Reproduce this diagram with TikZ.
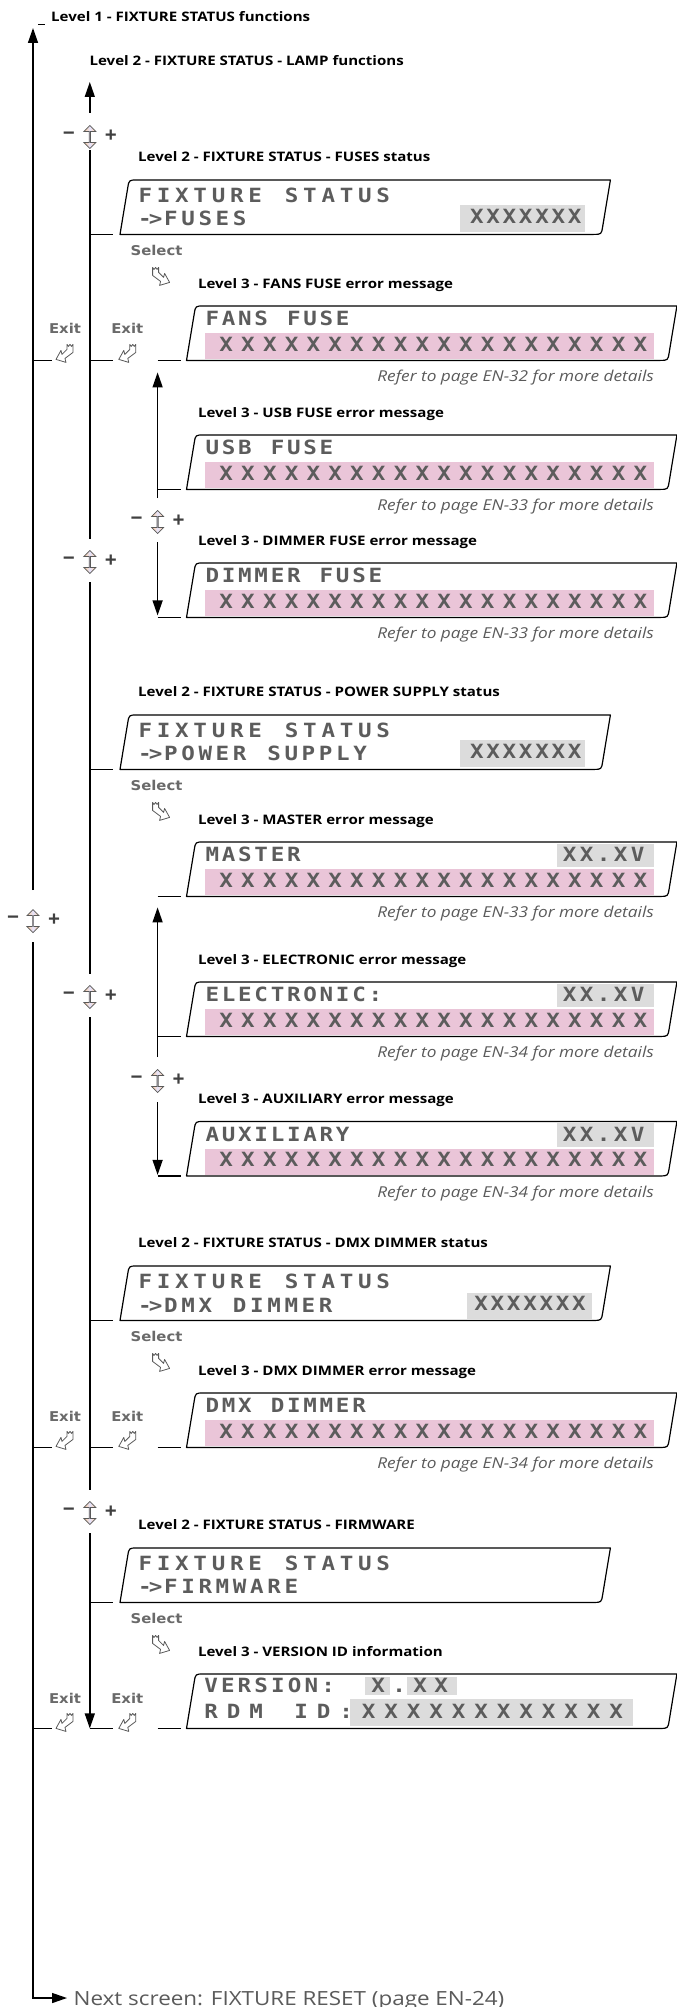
\documentclass[tikz,border=0pt]{standalone}
\usepackage{fontspec}
\setmainfont{Open Sans}
\newfontfamily\widefont[FakeStretch=1.15]{Open Sans}
\newfontfamily\lcdfont[FakeStretch=1.15]{DejaVu Sans Mono}
\newfontfamily\keyfont[FakeStretch=1.1]{DejaVu Sans}
\usetikzlibrary{positioning, calc, arrows.meta, shapes.arrows}

\definecolor{lcdgray}{HTML}{5C5C5C}
\definecolor{lcdpink}{HTML}{EAC5D8}
\definecolor{lcdhl}{HTML}{DCDCDC}
\definecolor{notegray}{HTML}{5A5A5A}
\definecolor{keygray}{HTML}{6A6A6A}

\makeatletter
% one LCD character per cell of fixed width
\newcommand{\lcd}[2]{\@tfor\lcd@c:=#2\do{\makebox[#1][c]{\lcd@c}}}
\makeatother

% LCD window outline: slanted sides, round top-left and bottom-right corners
\newcommand{\lcdframe}[1]{%
  \draw[winframe] (#1.south west)
    -- ([shift={(7.7pt,-8pt)}]#1.north west)
    .. controls ([xshift=9pt]#1.north west) .. ([xshift=17pt]#1.north west)
    -- (#1.north east)
    -- ([shift={(-7.7pt,8pt)}]#1.south east)
    .. controls ([xshift=-9pt]#1.south east) .. ([xshift=-17pt]#1.south east)
    -- cycle;}

\tikzset{
    exiticon/.pic={
        \draw[icon] (2,-9) -- (3.5,-7) -- (5,-9) -- (6.5,-7) -- (8,-9)
            -- (8,-1) -- (0,5) -- (1,9) -- (-9,6) -- (-4,-3) -- (-3,1)
            -- (2,-4) -- cycle;
    },
}

\begin{document}
\begin{tikzpicture}[
    x=1pt, y=-1pt,
    % Styles
    flowline/.style={line width=1.4pt},
    arr/.style={flowline, -{Triangle[length=15pt, width=10pt]}},
    winframe/.style={line width=1.2pt, line join=round},
    win/.style={anchor=north west, minimum width=490pt, minimum height=54pt,
        inner sep=0pt},
    lvltitle/.style={anchor=base west, inner sep=0pt,
        font=\widefont\bfseries\fontsize{13.1}{15}\selectfont},
    refnote/.style={anchor=base east, inner sep=0pt, text=notegray,
        font=\widefont\itshape\fontsize{15}{17}\selectfont},
    lcdrow/.style={anchor=base west, inner sep=0pt, text=lcdgray,
        font=\lcdfont\bfseries\fontsize{19.6}{20}\selectfont},
    hilite/.style={fill=lcdhl},
    pinkbar/.style={fill=lcdpink},
    keylbl/.style={inner sep=0pt, text=keygray,
        font=\keyfont\bfseries\fontsize{13.5}{14}\selectfont},
    pm/.style={inner sep=0pt, text=black!75,
        font=\bfseries\fontsize{21}{21}\selectfont},
    updown/.style={double arrow, rotate=90, draw=black!65, line width=0.7pt,
        left color=orange!40!white, right color=orange!40!white,
        middle color=blue!10, minimum height=23pt, minimum width=12pt,
        double arrow head extend=3pt, inner sep=0pt},
    icon/.style={draw=black!65, fill=white, line width=0.8pt, line join=round},
]
\useasboundingbox (0,0) rectangle (677,2007);

\coordinate (t1) at (33,0);
\coordinate (t2) at (89.8,0);
\coordinate (t3) at (157.6,0);

% ===== Level 2 windows =====
\node[win] (fuses) at (120,180) {};
\lcdframe{fuses}
\fill[hilite] ($(fuses.north west)+(340,25)$) rectangle ++(125,27);
\node[lcdrow] (fuses-1) at ($(fuses.north west)+(16,22)$) {\lcd{18.3pt}{FIXTURE~STATUS}};
\node[lcdrow] (fuses-2) at ($(fuses.north west)+(18,45)$) {-\kern-3pt>\lcd{17.2pt}{FUSES}};
\node[lcdrow] (fuses-3) at ($(fuses.north west)+(348.5,43)$) {\lcd{16.3pt}{XXXXXXX}};
\node[lvltitle] (fuses-t) at ($(fuses.north west)+(18,-18.5)$)
    {Level 2 - FIXTURE STATUS - FUSES status};

\node[win] (power) at (120,715) {};
\lcdframe{power}
\fill[hilite] ($(power.north west)+(340,25)$) rectangle ++(125,27);
\node[lcdrow] (power-1) at ($(power.north west)+(16,22)$) {\lcd{18.3pt}{FIXTURE~STATUS}};
\node[lcdrow] (power-2) at ($(power.north west)+(18,45)$) {-\kern-3pt>\lcd{17.2pt}{POWER~SUPPLY}};
\node[lcdrow] (power-3) at ($(power.north west)+(348.5,43)$) {\lcd{16.3pt}{XXXXXXX}};
\node[lvltitle] (power-t) at ($(power.north west)+(18,-18.5)$)
    {Level 2 - FIXTURE STATUS - POWER SUPPLY status};

\node[win] (dmx) at (120,1266) {};
\lcdframe{dmx}
\fill[hilite] ($(dmx.north west)+(347,27)$) rectangle ++(124.5,26);
\node[lcdrow] (dmx-1) at ($(dmx.north west)+(16,22)$) {\lcd{18.3pt}{FIXTURE~STATUS}};
\node[lcdrow] (dmx-2) at ($(dmx.north west)+(18,46)$) {-\kern-3pt>\lcd{17.2pt}{DMX~DIMMER}};
\node[lcdrow] (dmx-3) at ($(dmx.north west)+(352.8,44)$) {\lcd{16.3pt}{XXXXXXX}};
\node[lvltitle] (dmx-t) at ($(dmx.north west)+(18,-18.5)$)
    {Level 2 - FIXTURE STATUS - DMX DIMMER status};

\node[win] (firmware) at (120,1548) {};
\lcdframe{firmware}
\node[lcdrow] (firmware-1) at ($(firmware.north west)+(16,22)$) {\lcd{18.3pt}{FIXTURE~STATUS}};
\node[lcdrow] (firmware-2) at ($(firmware.north west)+(18,45)$) {-\kern-3pt>\lcd{17.2pt}{FIRMWARE}};
\node[lvltitle] (firmware-t) at ($(firmware.north west)+(18,-18.5)$)
    {Level 2 - FIXTURE STATUS - FIRMWARE};

% ===== Level 3 windows =====
\node[win] (fans) at (186.5,306) {};
\lcdframe{fans}
\fill[pinkbar] ($(fans.north west)+(18.5,27)$) rectangle ++(449,26);
\node[lcdrow] (fans-1) at ($(fans.north west)+(17.5,19.5)$) {\lcd{16.3pt}{FANS~FUSE}};
\node[lcdrow] (fans-2) at ($(fans.north west)+(28.6,45)$) {\lcd{21.8pt}{XXXXXXXXXXXXXXXXXXXX}};
\node[lvltitle] (fans-t) at ($(fans.north west)+(11.3,-18)$) {Level 3 - FANS FUSE error message};
\node[refnote] (fans-n) at ($(fans.south west)+(467.5,21.5)$) {Refer to page EN-32 for more details};

\node[win] (usb) at (186.5,435) {};
\lcdframe{usb}
\fill[pinkbar] ($(usb.north west)+(18.5,27)$) rectangle ++(449,26);
\node[lcdrow] (usb-1) at ($(usb.north west)+(17.5,19.5)$) {\lcd{16.3pt}{USB~FUSE}};
\node[lcdrow] (usb-2) at ($(usb.north west)+(28.6,45)$) {\lcd{21.8pt}{XXXXXXXXXXXXXXXXXXXX}};
\node[lvltitle] (usb-t) at ($(usb.north west)+(11.3,-18)$) {Level 3 - USB FUSE error message};
\node[refnote] (usb-n) at ($(usb.south west)+(467.5,21.5)$) {Refer to page EN-33 for more details};

\node[win] (dimmer) at (186.5,563) {};
\lcdframe{dimmer}
\fill[pinkbar] ($(dimmer.north west)+(18.5,27)$) rectangle ++(449,26);
\node[lcdrow] (dimmer-1) at ($(dimmer.north west)+(17.5,19.5)$) {\lcd{16.3pt}{DIMMER~FUSE}};
\node[lcdrow] (dimmer-2) at ($(dimmer.north west)+(28.6,45)$) {\lcd{21.8pt}{XXXXXXXXXXXXXXXXXXXX}};
\node[lvltitle] (dimmer-t) at ($(dimmer.north west)+(11.3,-18)$) {Level 3 - DIMMER FUSE error message};
\node[refnote] (dimmer-n) at ($(dimmer.south west)+(467.5,21.5)$) {Refer to page EN-33 for more details};

\node[win] (master) at (186.5,842) {};
\lcdframe{master}
\fill[hilite] ($(master.north west)+(370.5,1.5)$) rectangle ++(97,23.5);
\fill[pinkbar] ($(master.north west)+(18.5,27)$) rectangle ++(449,26);
\node[lcdrow] (master-1) at ($(master.north west)+(17.5,19.5)$) {\lcd{16.3pt}{MASTER}};
\node[lcdrow] (master-v) at ($(master.north west)+(374.5,19.5)$) {\lcd{17pt}{XX.XV}};
\node[lcdrow] (master-2) at ($(master.north west)+(28.6,45)$) {\lcd{21.8pt}{XXXXXXXXXXXXXXXXXXXX}};
\node[lvltitle] (master-t) at ($(master.north west)+(11.3,-18)$) {Level 3 - MASTER error message};
\node[refnote] (master-n) at ($(master.south west)+(467.5,21.5)$) {Refer to page EN-33 for more details};

\node[win] (electronic) at (186.5,982) {};
\lcdframe{electronic}
\fill[hilite] ($(electronic.north west)+(370.5,1.5)$) rectangle ++(97,23.5);
\fill[pinkbar] ($(electronic.north west)+(18.5,27)$) rectangle ++(449,26);
\node[lcdrow] (electronic-1) at ($(electronic.north west)+(17.5,19.5)$) {\lcd{16.3pt}{ELECTRONIC:}};
\node[lcdrow] (electronic-v) at ($(electronic.north west)+(374.5,19.5)$) {\lcd{17pt}{XX.XV}};
\node[lcdrow] (electronic-2) at ($(electronic.north west)+(28.6,45)$) {\lcd{21.8pt}{XXXXXXXXXXXXXXXXXXXX}};
\node[lvltitle] (electronic-t) at ($(electronic.north west)+(11.3,-18)$) {Level 3 - ELECTRONIC error message};
\node[refnote] (electronic-n) at ($(electronic.south west)+(467.5,21.5)$) {Refer to page EN-34 for more details};

\node[win] (auxiliary) at (186.5,1121.5) {};
\lcdframe{auxiliary}
\fill[hilite] ($(auxiliary.north west)+(370.5,1.5)$) rectangle ++(97,23.5);
\fill[pinkbar] ($(auxiliary.north west)+(18.5,27)$) rectangle ++(449,26);
\node[lcdrow] (auxiliary-1) at ($(auxiliary.north west)+(17.5,19.5)$) {\lcd{16.3pt}{AUXILIARY}};
\node[lcdrow] (auxiliary-v) at ($(auxiliary.north west)+(374.5,19.5)$) {\lcd{17pt}{XX.XV}};
\node[lcdrow] (auxiliary-2) at ($(auxiliary.north west)+(28.6,45)$) {\lcd{21.8pt}{XXXXXXXXXXXXXXXXXXXX}};
\node[lvltitle] (auxiliary-t) at ($(auxiliary.north west)+(11.3,-18)$) {Level 3 - AUXILIARY error message};
\node[refnote] (auxiliary-n) at ($(auxiliary.south west)+(467.5,21.5)$) {Refer to page EN-34 for more details};

\node[win] (dmxerr) at (186.5,1393) {};
\lcdframe{dmxerr}
\fill[pinkbar] ($(dmxerr.north west)+(18.5,27)$) rectangle ++(449,26);
\node[lcdrow] (dmxerr-1) at ($(dmxerr.north west)+(17.5,19.5)$) {\lcd{16.3pt}{DMX~DIMMER}};
\node[lcdrow] (dmxerr-2) at ($(dmxerr.north west)+(28.6,45)$) {\lcd{21.8pt}{XXXXXXXXXXXXXXXXXXXX}};
\node[lvltitle] (dmxerr-t) at ($(dmxerr.north west)+(11.3,-18)$) {Level 3 - DMX DIMMER error message};
\node[refnote] (dmxerr-n) at ($(dmxerr.south west)+(467.5,21.5)$) {Refer to page EN-34 for more details};

\node[win] (version) at (186.5,1674) {};
\lcdframe{version}
\fill[hilite] ($(version.north west)+(178.5,3)$) rectangle ++(25,18);
\fill[hilite] ($(version.north west)+(220.5,3)$) rectangle ++(50,18);
\fill[hilite] ($(version.north west)+(163.5,25)$) rectangle ++(282.5,27);
\node[lcdrow] (version-1) at ($(version.north west)+(16.1,18.5)$) {\lcd{16.7pt}{VERSION:}};
\node[lcdrow] (version-v) at ($(version.north west)+(181,18.5)$) {\lcd{21pt}{X.XX}};
\node[lcdrow] (version-2) at ($(version.north west)+(13.25,44)$) {\lcd{22.5pt}{RDM~ID:XXXXXXXXXXXX}};
\node[lvltitle] (version-t) at ($(version.north west)+(11.3,-18)$) {Level 3 - VERSION ID information};

% ===== Level 1 loop =====
\node[lvltitle] (lvl1) at (51,22) {Level 1 - FIXTURE STATUS functions};
\draw[line width=1.2pt] (38,24.3) -- (45,24.3);
\node[updown] (ud1) at (33,921) {};
\node[pm] (ud1-m) at ($(ud1)+(-20,-1)$) {−};
\node[pm] (ud1-p) at ($(ud1)+(21,-1)$) {+};
\draw[arr] ($(ud1)+(0,-31)$) -- (33,28);
\coordinate (nextpt) at (67,1998);
\draw[arr] ($(ud1)+(0,21)$) |- (nextpt);
\node[anchor=base west, inner sep=0pt, text=notegray,
    font=\widefont\fontsize{19.5}{21}\selectfont]
    (nextscreen) at (73.5,2005) {Next screen: FIXTURE RESET (page EN-24)};

% ===== Level 2 loop =====
\node[lvltitle] (lamp) at (89.4,65.3) {Level 2 - FIXTURE STATUS - LAMP functions};
\node[updown] (ud2a) at (89.8,137) {};
\node[pm] (ud2a-m) at ($(ud2a)+(-21,-1)$) {−};
\node[pm] (ud2a-p) at ($(ud2a)+(21,-1)$) {+};
\node[updown] (ud2b) at (89.8,562) {};
\node[pm] (ud2b-m) at ($(ud2b)+(-21,-1)$) {−};
\node[pm] (ud2b-p) at ($(ud2b)+(21,-1)$) {+};
\node[updown] (ud2c) at (89.8,997) {};
\node[pm] (ud2c-m) at ($(ud2c)+(-21,-1)$) {−};
\node[pm] (ud2c-p) at ($(ud2c)+(21,-1)$) {+};
\node[updown] (ud2d) at (89.8,1513) {};
\node[pm] (ud2d-m) at ($(ud2d)+(-21,-1)$) {−};
\node[pm] (ud2d-p) at ($(ud2d)+(21,-1)$) {+};

\draw[arr] ($(ud2a)+(0,-24)$) -- ($(ud2a)+(0,-55)$);
\draw[flowline] ($(ud2a)+(0,13)$) -- ($(ud2b)+(0,-23)$);
\draw[flowline] ($(ud2b)+(0,20)$) -- ($(ud2c)+(0,-23)$);
\draw[flowline] ($(ud2c)+(0,20)$) -- ($(ud2d)+(0,-23)$);
\draw[arr] ($(ud2d)+(0,20)$) -- (t2 |- version.south);

% ticks to level 2 windows
\draw[flowline] (t2 |- fuses.south) -- ([xshift=-7pt]fuses.south west);
\draw[flowline] (t2 |- power.south) -- ([xshift=-7pt]power.south west);
\draw[flowline] (t2 |- dmx.south) -- ([xshift=-7pt]dmx.south west);
\draw[flowline] (t2 |- firmware.south) -- ([xshift=-7pt]firmware.south west);

% Select keys
\node[keylbl] (sel1) at ($(fuses.south west)+(36.5,16)$) {Select};
\pic[xscale=-1] at ($(fuses.south west)+(40.6,42)$) {exiticon};
\node[keylbl] (sel2) at ($(power.south west)+(36.5,16)$) {Select};
\pic[xscale=-1] at ($(power.south west)+(40.6,42)$) {exiticon};
\node[keylbl] (sel3) at ($(dmx.south west)+(36.5,16)$) {Select};
\pic[xscale=-1] at ($(dmx.south west)+(40.6,42)$) {exiticon};
\node[keylbl] (sel4) at ($(firmware.south west)+(36.5,16)$) {Select};
\pic[xscale=-1] at ($(firmware.south west)+(40.6,42)$) {exiticon};

% Exit keys on level 1 and level 2
\draw[flowline] (t1 |- fans.south) -- ++(19,0);
\draw[flowline] (t2 |- fans.south) -- ++(23,0);
\node[keylbl] (exit1a) at ($(t1 |- fans.south)+(32,-32)$) {Exit};
\pic at ($(t1 |- fans.south)+(32,-7)$) {exiticon};
\node[keylbl] (exit2a) at ($(t2 |- fans.south)+(37.5,-32)$) {Exit};
\pic at ($(t2 |- fans.south)+(38,-7)$) {exiticon};

\draw[flowline] (t1 |- dmxerr.south) -- ++(19,0);
\draw[flowline] (t2 |- dmxerr.south) -- ++(23,0);
\node[keylbl] (exit1b) at ($(t1 |- dmxerr.south)+(32,-31)$) {Exit};
\pic at ($(t1 |- dmxerr.south)+(32,-7)$) {exiticon};
\node[keylbl] (exit2b) at ($(t2 |- dmxerr.south)+(37.5,-31)$) {Exit};
\pic at ($(t2 |- dmxerr.south)+(38,-7)$) {exiticon};

\draw[flowline] (t1 |- version.south) -- ++(19,0);
\draw[flowline] (t2 |- version.south) -- ++(23,0);
\node[keylbl] (exit1c) at ($(t1 |- version.south)+(32,-30)$) {Exit};
\pic at ($(t1 |- version.south)+(32,-6)$) {exiticon};
\node[keylbl] (exit2c) at ($(t2 |- version.south)+(37.5,-30)$) {Exit};
\pic at ($(t2 |- version.south)+(38,-6)$) {exiticon};

% ===== Level 3 loops =====
\node[updown] (ud3a) at (157.6,522) {};
\node[pm] (ud3a-m) at ($(ud3a)+(-21,-1)$) {−};
\node[pm] (ud3a-p) at ($(ud3a)+(21,-1)$) {+};
\node[updown] (ud3b) at (157.6,1081) {};
\node[pm] (ud3b-m) at ($(ud3b)+(-21,-1)$) {−};
\node[pm] (ud3b-p) at ($(ud3b)+(21,-1)$) {+};

\draw[arr] ($(ud3a)+(0,-24)$) -- ($(t3 |- fans.south)+(0,12)$);
\draw[arr] ($(ud3a)+(0,20)$) -- ($(t3 |- dimmer.south)+(0,-2)$);
\draw[arr] ($(ud3b)+(0,-24)$) -- ($(t3 |- master.south)+(0,11)$);
\draw[arr] ($(ud3b)+(0,21)$) -- ($(t3 |- auxiliary.south)+(0,-1)$);

% ticks to level 3 windows
\draw[flowline] (t3 |- fans.south) -- ([xshift=-5.5pt]fans.south west);
\draw[flowline] (t3 |- usb.south) -- ([xshift=-5.5pt]usb.south west);
\draw[flowline] (t3 |- dimmer.south) -- ([xshift=-5.5pt]dimmer.south west);
\draw[flowline] (t3 |- master.south) -- ([xshift=-5.5pt]master.south west);
\draw[flowline] (t3 |- electronic.south) -- ([xshift=-5.5pt]electronic.south west);
\draw[flowline] (t3 |- auxiliary.south) -- ([xshift=-5.5pt]auxiliary.south west);
\draw[flowline] (t3 |- dmxerr.south) -- ([xshift=-5.5pt]dmxerr.south west);
\draw[flowline] (t3 |- version.south) -- ([xshift=-5.5pt]version.south west);

\end{tikzpicture}
\end{document}
